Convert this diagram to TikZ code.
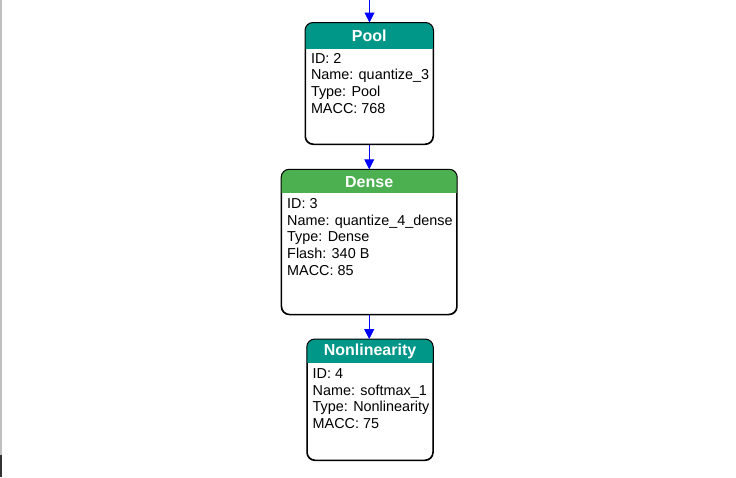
\documentclass[tikz,border=0pt]{standalone}
\usepackage{fontspec}
\setmainfont{Liberation Sans}
\usetikzlibrary{arrows.meta}
\definecolor{hdrteal}{HTML}{009688}
\definecolor{hdrgreen}{HTML}{4CAF50}
\definecolor{arrowblue}{HTML}{0000FF}
\tikzset{
  layerbox/.style={draw=black, line width=1pt, rounded corners=8pt, fill=white, inner sep=0pt},
  boxborder/.style={draw=black, line width=1pt, rounded corners=8pt},
  hdrtitle/.style={text=white, font=\fontsize{16}{19}\selectfont\bfseries, inner sep=0pt},
  bodytext/.style={font=\fontsize{14.4}{16.7}\selectfont, align=left, inner sep=0pt, anchor=base west},
  flow/.style={draw=arrowblue, line width=1pt, -{Triangle[width=10pt,length=10pt]}},
}
\newcommand\mlheader[3]{% node, color, header height
  \begin{scope}
    \clip[rounded corners=8pt] (#1.south west) rectangle (#1.north east);
    \fill[#2] (#1.north west) rectangle ([yshift=-#3]#1.north east);
  \end{scope}
  \draw[boxborder] (#1.south west) rectangle (#1.north east);
}
\begin{document}
\begin{tikzpicture}[x=1pt,y=-1pt]
  \useasboundingbox (0,0) rectangle (736,477);
  \fill[white] (0,0) rectangle (736,477);
  \fill[black!25] (0,0) rectangle (1.5,477);
  \fill[black!80] (0,455) rectangle (1.5,477);

  % Pool
  \node[layerbox, minimum width=127.5pt, minimum height=121pt] (pool) at (369.25,83.5) {};
  \mlheader{pool}{hdrteal}{26pt}
  \node[hdrtitle] (pooltitle) at (369.25,36) {Pool};
  \node[bodytext] (poolbody) at (310.8,113.1) {ID: 2\\Name: quantize\_3\\Type: Pool\\MACC: 768};

  % Dense
  \node[layerbox, minimum width=175pt, minimum height=144.5pt] (dense) at (369.2,242) {};
  \mlheader{dense}{hdrgreen}{24pt}
  \node[hdrtitle] (densetitle) at (369.2,182) {Dense};
  \node[bodytext] (densebody) at (287,275.1) {ID: 3\\Name: quantize\_4\_dense\\Type: Dense\\Flash: 340 B\\MACC: 85};

  % Nonlinearity
  \node[layerbox, minimum width=125.5pt, minimum height=120.5pt] (nonlin) at (370,399.8) {};
  \mlheader{nonlin}{hdrteal}{24pt}
  \node[hdrtitle] (nonlintitle) at (370,351.5) {Nonlinearity};
  \node[bodytext] (nonlinbody) at (312.5,428.4) {ID: 4\\Name: softmax\_1\\Type: Nonlinearity\\MACC: 75};

  % connectors
  \coordinate (topin) at (369.5,0);
  \draw[flow] (topin) -- (topin |- pool.north);
  \draw[flow] (pool.south) -- (pool.south |- dense.north);
  \draw[flow] (dense.south) -- (dense.south |- nonlin.north);
\end{tikzpicture}
\end{document}
